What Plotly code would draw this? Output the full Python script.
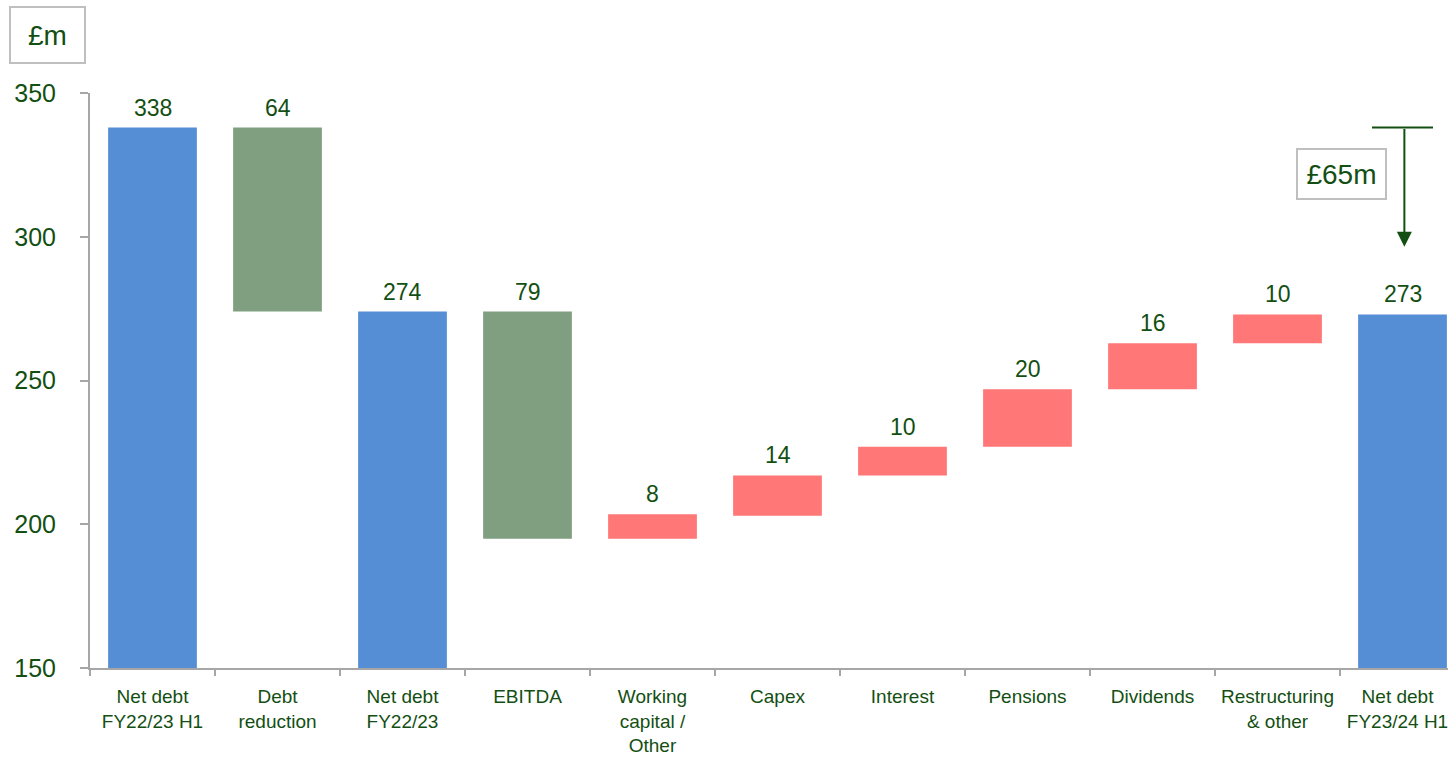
import plotly.graph_objects as go

categories = ["Net debt<br>FY22/23 H1", "Debt<br>reduction", "Net debt<br>FY22/23", "EBITDA",
              "Working<br>capital /<br>Other", "Capex", "Interest", "Pensions", "Dividends",
              "Restructuring<br>& other", "Net debt<br>FY23/24 H1"]
bar_base = [150, 274, 150, 195, 195, 203, 217, 227, 247, 263, 150]
bar_top = [338, 338, 274, 274, 203.5, 217, 227, 247, 263, 273, 273]
value_labels = ["338", "64", "274", "79", "8", "14", "10", "20", "16", "10", "273"]
bar_kind = ["total", "decrease", "total", "decrease", "increase", "increase", "increase",
            "increase", "increase", "increase", "total"]
y_ticks = [150, 200, 250, 300, 350]
change_label = "£65m"
unit_label = "£m"
change_start = 338
change_arrow_end = 296.5

kind_colors = {"total": "#558ED5", "decrease": "#7F9F80", "increase": "#FF7777"}
text_color = "#134F13"
axis_color = "#A6A6A6"
font_family = "Liberation Sans, Arial, sans-serif"
last_label_nudge = -0.04

idx = list(range(len(categories)))
tick_pos = [i + (last_label_nudge if i == idx[-1] else 0) for i in idx]

fig = go.Figure()
fig.add_trace(go.Bar(
    x=idx,
    y=[t - b for t, b in zip(bar_top, bar_base)],
    base=bar_base,
    width=0.71,
    marker=dict(color=[kind_colors[k] for k in bar_kind], line=dict(width=0)),
    hoverinfo="skip",
))

annotations = []
for i, (t, lab) in enumerate(zip(bar_top, value_labels)):
    annotations.append(dict(x=i, y=t, xref="x", yref="y", text=lab, showarrow=False,
                            yanchor="bottom", yshift=5,
                            font=dict(size=23, color=text_color, family=font_family)))

# arrow for change
last = len(categories) - 1
annotations.append(dict(x=last + 0.015, y=change_arrow_end, ax=last + 0.015, ay=change_start,
                        xref="x", yref="y", axref="x", ayref="y", text="", showarrow=True,
                        arrowhead=2, arrowsize=1.5, arrowwidth=2, arrowcolor=text_color))
# boxes
annotations.append(dict(x=(1341.5 - 90) / 1358, y=(668 - 174) / 575, xref="paper", yref="paper",
                        xanchor="center", yanchor="middle",
                        text=change_label, showarrow=False, width=87, height=48,
                        bordercolor="#BFBFBF", borderwidth=2, borderpad=0, bgcolor="white",
                        font=dict(size=28, color=text_color, family=font_family)))
annotations.append(dict(x=(47.5 - 90) / 1358, y=(668 - 35) / 575, xref="paper", yref="paper",
                        xanchor="center", yanchor="middle",
                        text=unit_label, showarrow=False, width=73, height=54,
                        bordercolor="#BFBFBF", borderwidth=2, borderpad=0, bgcolor="white",
                        font=dict(size=28, color=text_color, family=font_family)))

fig.add_shape(type="line", xref="x", yref="y", x0=last - 0.244, x1=last + 0.244,
              y0=change_start, y1=change_start, line=dict(color=text_color, width=2))

fig.update_layout(
    width=1448, height=757,
    margin=dict(l=90, r=0, t=93, b=89),
    paper_bgcolor="white", plot_bgcolor="white",
    showlegend=False,
    annotations=annotations,
    font=dict(family=font_family, color=text_color),
)
fig.update_xaxes(
    type="linear", automargin=False,
    range=[-0.5, 10.364],
    tickmode="array", tickvals=tick_pos, ticktext=categories,
    ticks="", showline=True, linecolor=axis_color, linewidth=2,
    showgrid=False, zeroline=False,
    ticklabeloverflow="allow", ticklabelstandoff=10,
    tickfont=dict(size=19, color=text_color, family=font_family),
    minor=dict(tickmode="array", tickvals=[i + 0.5 for i in range(-1, len(categories))],
               ticks="outside", ticklen=6, tickwidth=2, tickcolor=axis_color, showgrid=False),
)
fig.update_yaxes(
    automargin=False,
    range=[150, 350], tickvals=y_ticks,
    showline=True, linecolor=axis_color, linewidth=2,
    ticks="outside", ticklen=8, tickwidth=2, tickcolor=axis_color,
    showgrid=False, zeroline=False,
    ticklabelstandoff=19,
    tickfont=dict(size=25, color=text_color, family=font_family),
)

fig.write_html("out.html", config={"displayModeBar": False},
               post_script="document.body.style.margin='0';document.body.style.overflow='hidden';")
